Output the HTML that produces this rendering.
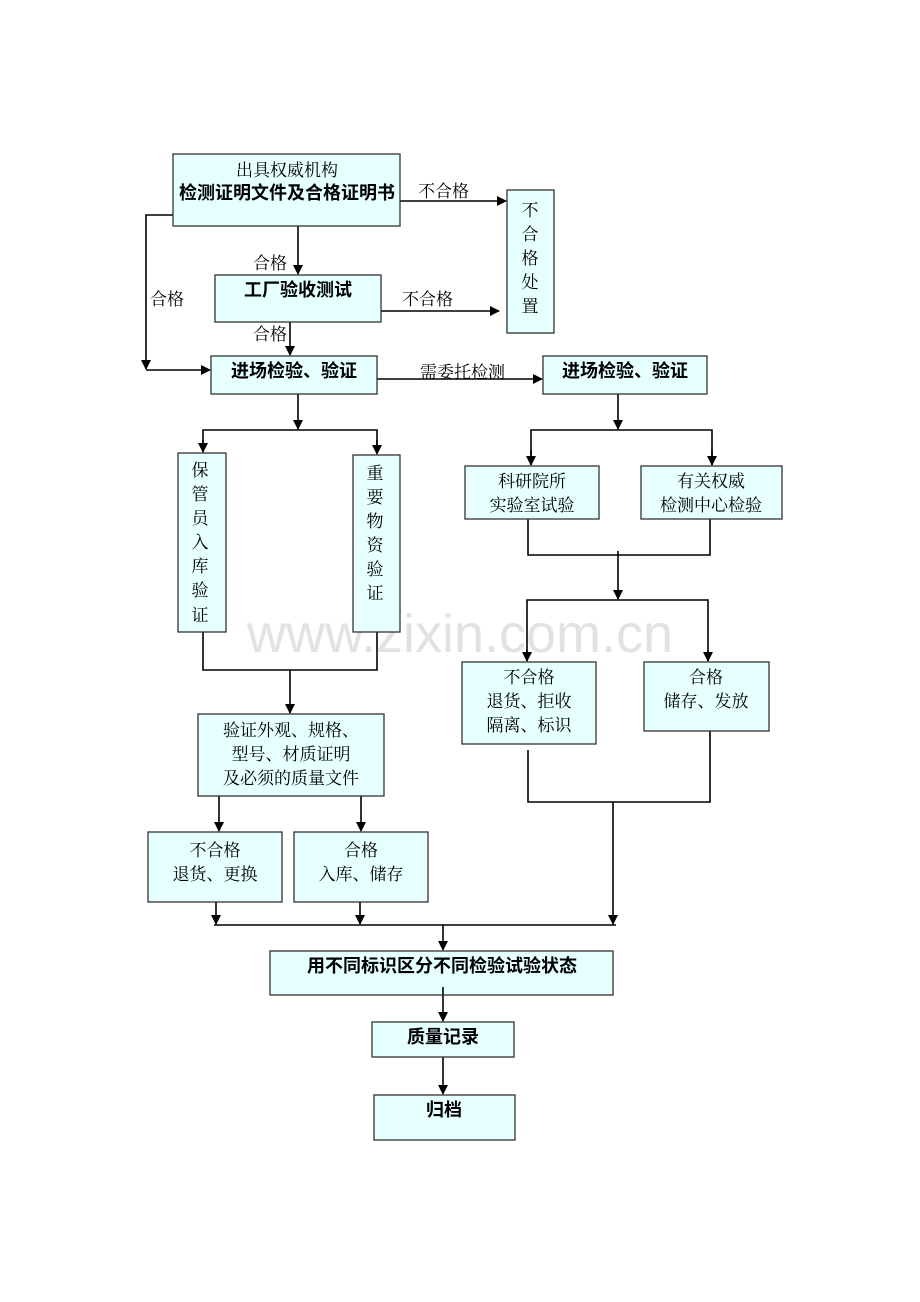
<!DOCTYPE html>
<html><head><meta charset="utf-8"><style>
html,body{margin:0;padding:0;background:#fff;}
svg{display:block;}
text{font-family:"Liberation Serif","Noto Serif CJK SC","Noto Sans CJK SC",serif;font-size:17px;fill:#000;}
.b{font-family:"Liberation Sans","Noto Sans CJK SC",sans-serif;font-weight:bold;font-size:18px;}
rect{fill:#e6ffff;stroke:#333;stroke-width:1.3;}
line,polyline{stroke:#000;stroke-width:1.6;fill:none;}
</style></head><body>
<svg width="920" height="1302" viewBox="0 0 920 1302" xmlns="http://www.w3.org/2000/svg">
<defs><marker id="a" markerWidth="10" markerHeight="10" refX="9" refY="5" orient="auto" markerUnits="userSpaceOnUse"><path d="M0,0 L10,5 L0,10 z" fill="#000"/></marker></defs>
<text x="460" y="652" text-anchor="middle" style="font-family:'Liberation Sans',sans-serif;font-size:54px;fill:#e2e2e2;">www.zixin.com.cn</text>

<!-- connectors -->
<line x1="400" y1="201" x2="506" y2="201" marker-end="url(#a)"/>
<line x1="298" y1="226" x2="298" y2="274" marker-end="url(#a)"/>
<line x1="381" y1="311" x2="499" y2="311" marker-end="url(#a)"/>
<line x1="290" y1="322" x2="290" y2="355" marker-end="url(#a)"/>
<polyline points="173,215 146,215 146,369"/>
<line x1="146" y1="360" x2="146" y2="369" marker-end="url(#a)"/>
<line x1="146" y1="370" x2="210" y2="370" marker-end="url(#a)"/>
<line x1="377" y1="379" x2="542" y2="379" marker-end="url(#a)"/>
<line x1="298" y1="394" x2="298" y2="429" marker-end="url(#a)"/>
<polyline points="203,452 203,430 377,430 377,452"/>
<line x1="203" y1="440" x2="203" y2="452" marker-end="url(#a)"/>
<line x1="377" y1="440" x2="377" y2="454" marker-end="url(#a)"/>
<polyline points="203,632 203,670 377,670 377,632"/>
<line x1="290" y1="670" x2="290" y2="713" marker-end="url(#a)"/>
<line x1="219" y1="796" x2="219" y2="831" marker-end="url(#a)"/>
<line x1="361" y1="796" x2="361" y2="831" marker-end="url(#a)"/>
<line x1="216" y1="902" x2="216" y2="924" marker-end="url(#a)"/>
<line x1="360" y1="902" x2="360" y2="924" marker-end="url(#a)"/>
<line x1="613" y1="802" x2="613" y2="924" marker-end="url(#a)"/>
<line x1="214" y1="925" x2="616" y2="925"/>
<line x1="443" y1="925" x2="443" y2="950" marker-end="url(#a)"/>
<line x1="443" y1="987" x2="443" y2="1021" marker-end="url(#a)"/>
<line x1="443" y1="1057" x2="443" y2="1094" marker-end="url(#a)"/>
<line x1="618" y1="394" x2="618" y2="429" marker-end="url(#a)"/>
<polyline points="531,465 531,430 712,430 712,465"/>
<line x1="531" y1="450" x2="531" y2="465" marker-end="url(#a)"/>
<line x1="712" y1="450" x2="712" y2="465" marker-end="url(#a)"/>
<polyline points="528,519 528,555 710,555 710,519"/>
<line x1="618" y1="551" x2="618" y2="599" marker-end="url(#a)"/>
<polyline points="527,661 527,600 708,600 708,661"/>
<line x1="527" y1="650" x2="527" y2="661" marker-end="url(#a)"/>
<line x1="708" y1="650" x2="708" y2="661" marker-end="url(#a)"/>
<polyline points="528,750 528,802 710,802 710,731"/>

<!-- labels -->
<text x="418" y="197">不合格</text>
<text x="253" y="269">合格</text>
<text x="402" y="305">不合格</text>
<text x="253" y="340">合格</text>
<text x="150" y="305">合格</text>
<text x="420" y="378">需委托检测</text>

<!-- boxes -->
<rect x="173" y="154" width="227" height="72"/>
<text x="287" y="176" text-anchor="middle">出具权威机构</text>
<text x="287" y="199" text-anchor="middle" class="b">检测证明文件及合格证明书</text>

<rect x="507" y="190" width="47" height="143"/>
<text x="530" y="216" text-anchor="middle">不</text>
<text x="530" y="240" text-anchor="middle">合</text>
<text x="530" y="264" text-anchor="middle">格</text>
<text x="530" y="288" text-anchor="middle">处</text>
<text x="530" y="312" text-anchor="middle">置</text>

<rect x="215" y="275" width="166" height="47"/>
<text x="298" y="296" text-anchor="middle" class="b">工厂验收测试</text>

<rect x="211" y="356" width="166" height="38"/>
<text x="294" y="377" text-anchor="middle" class="b">进场检验、验证</text>

<rect x="543" y="356" width="164" height="38"/>
<text x="625" y="377" text-anchor="middle" class="b">进场检验、验证</text>

<rect x="178" y="453" width="48" height="179"/>
<text x="200" y="476" text-anchor="middle">保</text>
<text x="200" y="500" text-anchor="middle">管</text>
<text x="200" y="524" text-anchor="middle">员</text>
<text x="200" y="548" text-anchor="middle">入</text>
<text x="200" y="572" text-anchor="middle">库</text>
<text x="200" y="596" text-anchor="middle">验</text>
<text x="200" y="621" text-anchor="middle">证</text>

<rect x="353" y="455" width="47" height="177"/>
<text x="375" y="479" text-anchor="middle">重</text>
<text x="375" y="503" text-anchor="middle">要</text>
<text x="375" y="527" text-anchor="middle">物</text>
<text x="375" y="551" text-anchor="middle">资</text>
<text x="375" y="575" text-anchor="middle">验</text>
<text x="375" y="599" text-anchor="middle">证</text>

<rect x="465" y="466" width="134" height="53"/>
<text x="532" y="487" text-anchor="middle">科研院所</text>
<text x="532" y="511" text-anchor="middle">实验室试验</text>

<rect x="641" y="466" width="141" height="53"/>
<text x="711" y="487" text-anchor="middle">有关权威</text>
<text x="711" y="511" text-anchor="middle">检测中心检验</text>

<rect x="462" y="662" width="134" height="82"/>
<text x="529" y="683" text-anchor="middle">不合格</text>
<text x="529" y="707" text-anchor="middle">退货、拒收</text>
<text x="529" y="731" text-anchor="middle">隔离、标识</text>

<rect x="644" y="662" width="125" height="69"/>
<text x="706" y="683" text-anchor="middle">合格</text>
<text x="706" y="707" text-anchor="middle">储存、发放</text>

<rect x="198" y="714" width="186" height="82"/>
<text x="291" y="736" text-anchor="middle">验证外观、规格、</text>
<text x="291" y="760" text-anchor="middle">型号、材质证明</text>
<text x="291" y="784" text-anchor="middle">及必须的质量文件</text>

<rect x="148" y="832" width="134" height="70"/>
<text x="215" y="856" text-anchor="middle">不合格</text>
<text x="215" y="880" text-anchor="middle">退货、更换</text>

<rect x="294" y="832" width="134" height="70"/>
<text x="361" y="856" text-anchor="middle">合格</text>
<text x="361" y="880" text-anchor="middle">入库、储存</text>

<rect x="270" y="951" width="343" height="44"/>
<text x="442" y="972" text-anchor="middle" class="b">用不同标识区分不同检验试验状态</text>
<line x1="443" y1="987" x2="443" y2="995"/>

<rect x="372" y="1022" width="142" height="35"/>
<text x="443" y="1043" text-anchor="middle" class="b">质量记录</text>

<rect x="374" y="1095" width="141" height="45"/>
<text x="444" y="1116" text-anchor="middle" class="b">归档</text>
</svg>
</body></html>
